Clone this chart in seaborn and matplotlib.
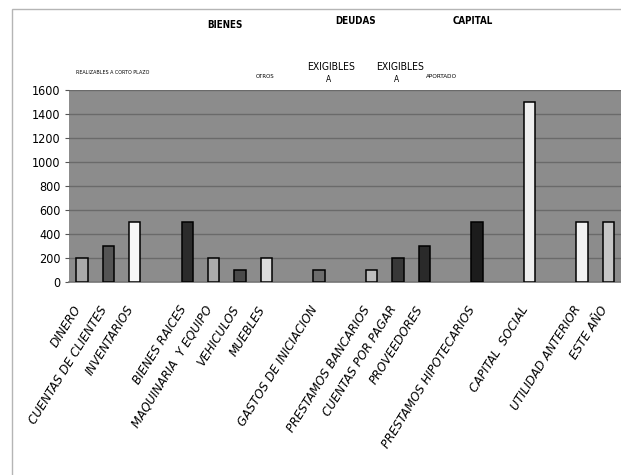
import matplotlib
matplotlib.use('Agg')
import matplotlib.pyplot as plt
import matplotlib.transforms as mtrans
import seaborn as sns
import numpy as np
import pandas as pd
from matplotlib.patches import Rectangle
from matplotlib.ticker import MultipleLocator

cuentas = ['DINERO', 'CUENTAS DE CLIENTES', 'INVENTARIOS', '',
           'BIENES RAICES', 'MAQUINARIA  Y EQUIPO', 'VEHICULOS', 'MUEBLES', '',
           'GASTOS DE INICIACION', '', 'PRESTAMOS BANCARIOS', 'CUENTAS POR PAGAR',
           'PROVEEDORES', '', 'PRESTAMOS HIPOTECARIOS', '', 'CAPITAL  SOCIAL', '',
           'UTILIDAD ANTERIOR', 'ESTE AÑO']
valores = [200, 300, 500, np.nan, 500, 200, 100, 200, np.nan, 100, np.nan,
           100, 200, 300, np.nan, 500, np.nan, 1500, np.nan, 500, 500]
colores = ['#a9a9a9', '#545454', '#f7f7f7', None, '#2b2b2b', '#ababab', '#4a4a4a',
           '#dcdcdc', None, '#6c6c6c', None, '#bdbdbd', '#383838', '#2a2a2a', None,
           '#1c1c1c', None, '#efefef', None, '#f2f2f2', '#c6c6c6']

# encabezados de arriba
grupos = ['BIENES', 'DEUDAS', 'CAPITAL']
subgrupos = ['REALIZABLES A CORTO PLAZO', 'OTROS', 'APORTADO']

claves = [str(i) for i in range(len(cuentas))]
df = pd.DataFrame({'clave': claves, 'valor': valores})
df = df.dropna()
paleta = {k: c for k, c in zip(claves, colores) if c is not None}

sns.set_style('white')
plt.rcParams['font.family'] = ['DejaVu Sans']
plt.rcParams['font.stretch'] = 'condensed'
plt.rcParams['text.color'] = 'black'
plt.rcParams['xtick.color'] = 'black'
plt.rcParams['ytick.color'] = 'black'

W, H = 621, 475
fig = plt.figure(figsize=(W / 100, H / 100), dpi=100)
ax = fig.add_axes([69 / W, 1 - 282 / H, 1 - 69 / W + 0.001, (282 - 90) / H])
ax.set_facecolor('#8c8c8c')

sns.barplot(data=df, x='clave', y='valor', hue='clave', order=claves,
            palette=paleta, legend=False, width=0.43, edgecolor='black',
            linewidth=1.1, ax=ax, zorder=3)

ax.set_xlim(-0.5, len(cuentas) - 0.5)
ax.set_ylim(0, 1600)
ax.yaxis.set_major_locator(MultipleLocator(200))
ax.grid(axis='y', color='#6a6a6a', linewidth=1.0, zorder=0)
ax.set_axisbelow(True)
for s in ['top', 'right', 'left']:
    ax.spines[s].set_visible(False)
ax.spines['bottom'].set_color('#777777')
ax.spines['bottom'].set_linewidth(1.2)

ax.set_xticks(range(len(cuentas)))
ax.set_xticklabels(cuentas, rotation=58, ha='right', va='center',
                   rotation_mode='anchor', fontstyle='italic', fontsize=9.5)
ax.tick_params(axis='x', length=0, pad=18)
desplaza = mtrans.ScaledTranslation(-4 / 100, 0, fig.dpi_scale_trans)
for lab in ax.get_xticklabels():
    lab.set_transform(lab.get_transform() + desplaza)
ax.set_xticks(np.arange(-0.5, len(cuentas)), minor=True)
ax.tick_params(axis='x', which='minor', length=4, color='#dddddd', direction='out')
ax.tick_params(axis='y', length=3, color='#555555', labelsize=9, pad=3, left=True)
ax.set_xlabel('')
ax.set_ylabel('')

# marco del grafico
fig.add_artist(Rectangle((12 / W, -0.1), 1, 1.1 - 9 / H, transform=fig.transFigure,
                         fill=False, edgecolor='#b5b5b5', linewidth=1.0))

def px(x, y):
    return x / W, 1 - y / H

for t, (x, y) in zip(grupos, [(225, 25), (356, 21), (473, 21)]):
    fig.text(*px(x, y), t, ha='center', va='center', fontsize=7, fontweight='bold')
for t, (x, y, s) in zip(subgrupos, [(113, 72, 3.9), (265, 76, 4.3), (442, 77, 4.6)]):
    fig.text(*px(x, y), t, ha='center', va='center', fontsize=s)
for x in [331, 400]:
    fig.text(*px(x, 67), 'EXIGIBLES', ha='center', va='center', fontsize=7.5)
    fig.text(*px(x - 3, 79), 'A', ha='center', va='center', fontsize=6)

fig.savefig('out.png', dpi=100)
